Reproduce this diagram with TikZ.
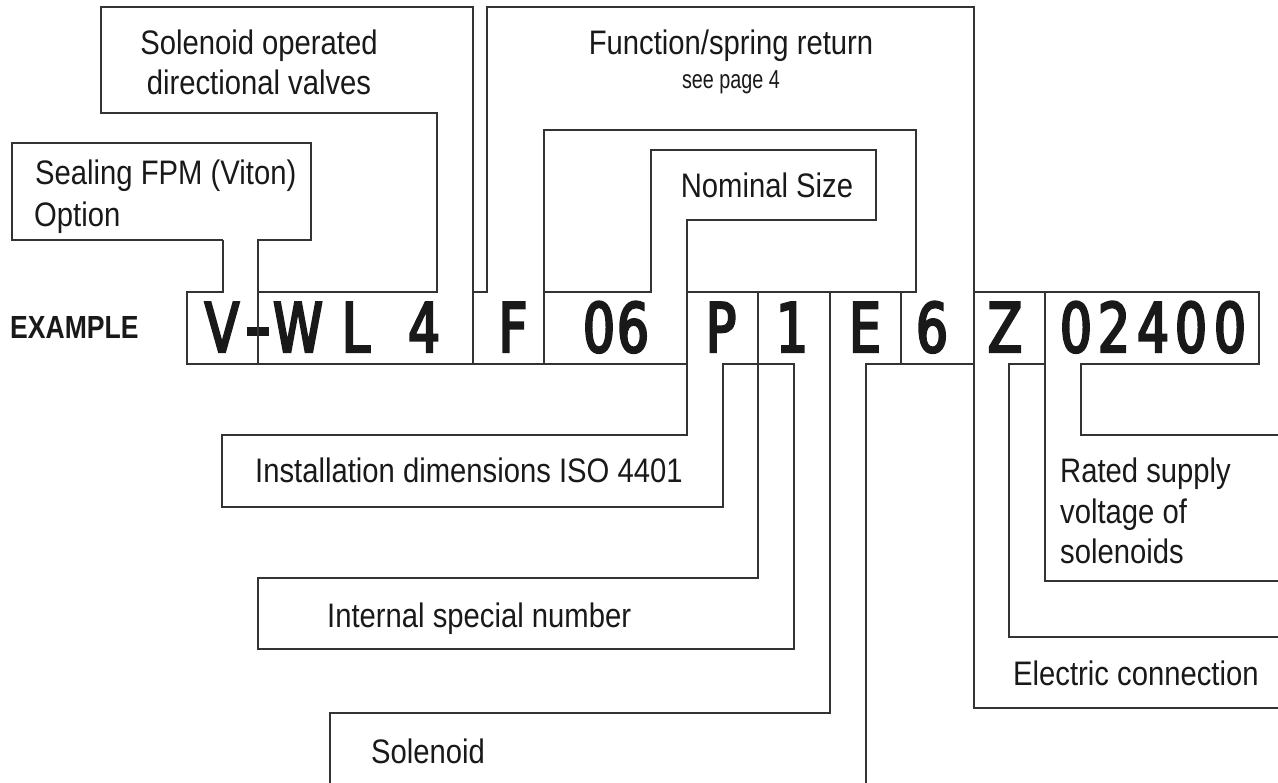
\documentclass[tikz,border=0pt]{standalone}
\usepackage{fontspec}
\setmainfont{Liberation Sans}[FakeStretch=0.86]
\newfontfamily\codefont{DejaVu Sans}[FakeStretch=0.74, FakeBold=3.5]
\newfontfamily\headfont{Liberation Sans}[FakeStretch=0.83]
\newfontfamily\notefont{Liberation Sans}[FakeStretch=0.76]
\usetikzlibrary{positioning}
\tikzset{frame/.style={draw=black!80, line width=1.2pt},
         lbl/.style={inner sep=0pt, anchor=base west, text=black!90,
                     font=\fontsize{34}{40}\selectfont},
         codechar/.style={inner sep=0pt, anchor=base, text=black!90,
                     font=\codefont\fontsize{68}{68}\selectfont}}

\begin{document}
\begin{tikzpicture}[x=1pt, y=-1pt]
	  \useasboundingbox (0,0) rectangle (1278,783);
	  % type code
	  \node[inner sep=0pt, anchor=base west, text=black!90,
	        font=\headfont\bfseries\fontsize{32}{32}\selectfont] (ex) at (10,339) {EXAMPLE};
	  \foreach \c/\x [count=\i] in {V/222, {\scalebox{1.4}[1.1]{-}}/258, W/298, L/356, 4/424, F/513,
	      0/599, 6/633, P/721, 1/792, E/865, 6/932, Z/1005,
	      0/1076, 2/1114, 4/1153, 0/1191, 0/1230}
	    \node[codechar] (c\i) at (\x,352) {\c};
	  % labels
	  \node[lbl] (seal) at (35,185) {Sealing FPM (Viton)};
	  \node[lbl] (opt) at (34,227) {Option};
	  \node[lbl, anchor=base] (sol1) at (259,55) {Solenoid operated};
	  \node[lbl, anchor=base] (sol2) at (259,95) {directional valves};
	  \node[lbl, anchor=base] (func) at (731,55) {Function/spring return};
	  \node[lbl, anchor=base, font=\notefont\fontsize{26}{30}\selectfont] (page) at (731,89) {see page 4};
	  \node[lbl, anchor=base] (nom) at (767,198) {Nominal Size};
	  \node[lbl] (inst) at (255,483) {Installation dimensions ISO 4401};
	  \node[lbl] (isn) at (327,627) {Internal special number};
	  \node[lbl] (sold) at (371,763) {Solenoid};
	  \node[lbl] (rat1) at (1060,483) {Rated supply};
	  \node[lbl] (rat2) at (1060,523) {voltage of};
	  \node[lbl] (rat3) at (1060,563) {solenoids};
	  \node[lbl] (elec) at (1013,685) {Electric connection};
	  % frames
	  \draw[frame] (223,240) -- (12,240) -- (12,143) -- (311,143) -- (311,240)
	    -- (258,240) -- (258,364);
	  \draw[frame] (223,240) -- (223,292) -- (187,292) -- (187,364) -- (687,364);
	  \draw[frame] (258,292) -- (437,292) -- (437,113) -- (101,113) -- (101,7)
	    -- (473,7) -- (473,364);
	  \draw[frame] (473,292) -- (487,292) -- (487,7) -- (974,7) -- (974,708) -- (1278,708);
	  \draw[frame] (544,364) -- (544,130) -- (916,130) -- (916,292) -- (687,292);
	  \draw[frame] (544,292) -- (651,292) -- (651,150) -- (876,150) -- (876,220)
	    -- (687,220) -- (687,435) -- (222,435) -- (222,507) -- (723,507) -- (723,364)
	    -- (794,364) -- (794,649) -- (258,649) -- (258,578) -- (758,578) -- (758,292);
	  \draw[frame] (830,292) -- (830,713) -- (330,713) -- (330,783);
	  \draw[frame] (866,783) -- (866,364) -- (974,364);
	  \draw[frame] (901,292) -- (901,364);
	  \draw[frame] (974,292) -- (1259,292) -- (1259,364) -- (1081,364) -- (1081,435)
	    -- (1278,435);
	  \draw[frame] (1045,292) -- (1045,581) -- (1278,581);
	  \draw[frame] (1278,637) -- (1009,637) -- (1009,364) -- (1045,364);
\end{tikzpicture}
\end{document}
